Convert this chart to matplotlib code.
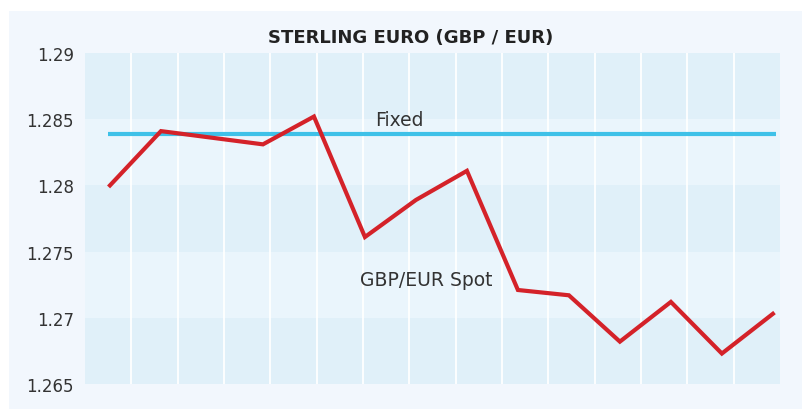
import matplotlib
matplotlib.use("Agg")
import matplotlib.pyplot as plt
from matplotlib.patches import Rectangle

# Data
spot = [1.2800, 1.2841, 1.2836, 1.2831, 1.2852, 1.2761, 1.2789, 1.2811,
        1.2721, 1.2717, 1.2682, 1.2712, 1.2673, 1.2703]
fixed_rate = 1.2839
yticks = [1.265, 1.27, 1.275, 1.28, 1.285, 1.29]
ytick_labels = ["1.265", "1.27", "1.275", "1.28", "1.285", "1.29"]
title = "STERLING EURO (GBP / EUR)"

plt.rcParams['font.family'] = ['DejaVu Sans']

fig = plt.figure(figsize=(8.03, 4.10), dpi=100)
fig.patch.set_facecolor("white")
fig.patches.append(Rectangle((9/803, 0), 1 - 9/803, 1 - 12/410,
                             transform=fig.transFigure, facecolor="#f2f7fd",
                             edgecolor="none", zorder=-10))

ax = fig.add_axes([85/803, 1 - 385/410, 695/803, 331/410])
ax.set_facecolor("none")

xmin, xmax = -0.49, 13.14
ax.set_xlim(xmin, xmax)
ax.set_ylim(1.265, 1.29)

band_colors = ["#e0f0f9", "#eaf5fc"]
for i in range(5):
    lo = yticks[i]
    hi = yticks[i + 1]
    ax.axhspan(lo, hi, color=band_colors[i % 2], zorder=0, lw=0)

for j in range(1, 15):
    xv = xmin + (xmax - xmin) * j / 15
    ax.axvline(xv, color="white", lw=1.3, zorder=1)

x = list(range(len(spot)))
ax.plot([-0.04, 13.07], [fixed_rate, fixed_rate], color="#3ec1e8", lw=3.0,
        solid_capstyle="butt", zorder=3)
ax.plot(x, spot, color="#d42229", lw=3.0, zorder=4, solid_joinstyle="miter")

ax.text(5.67, 1.2850, "Fixed", ha="center", va="center",
        fontsize=13.5, color="#333333", zorder=5)
ax.text(6.2, 1.2729, "GBP/EUR Spot", ha="center", va="center",
        fontsize=13.5, color="#333333", zorder=5)

ax.set_yticks(yticks)
ax.set_yticklabels(ytick_labels, fontsize=12, color="#333333")
ax.set_xticks([])
ax.tick_params(axis="y", length=0, pad=8)
for s in ax.spines.values():
    s.set_visible(False)

fig.text(411/803, 1 - 38/410, title, ha="center", va="center",
         fontsize=13, fontweight="bold", color="#222222")

fig.savefig("out.png", dpi=100, facecolor=fig.get_facecolor())
